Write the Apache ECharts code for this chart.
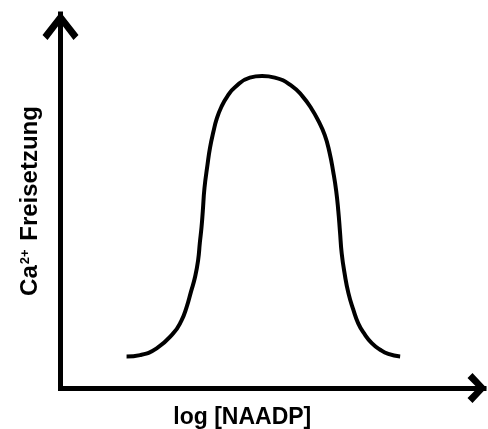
<!DOCTYPE html>
<html>
<head>
<meta charset="utf-8">
<script src="https://cdn.jsdelivr.net/npm/echarts@6/dist/echarts.min.js"></script>
<style>
  html, body { margin: 0; padding: 0; background: #fff; }
  #chart { width: 488px; height: 429px; }
</style>
</head>
<body>
<div id="chart"></div>
<script>
// curve (arbitrary units 0..100)
var logConc = [15.6, 18.8, 22.7, 26.6, 28.5, 29.8, 30.8, 31.8, 32.5, 32.9, 33.3, 33.6, 34.0,
  34.7, 35.3, 36.1, 36.9, 38.0, 39.4, 41.2, 44.7, 47.6, 50.6, 54.8, 57.2, 59.2, 60.9, 62.4,
  63.5, 64.4, 65.1, 65.6, 66.0, 66.4, 67.1, 68.0, 69.1, 70.3, 71.8, 73.5, 75.4, 77.4, 80.2];
var release = [8.4, 8.8, 10.6, 14.6, 17.9, 21.7, 25.7, 29.8, 34.2, 38.8, 43.0, 47.3, 53.5,
  59.6, 64.2, 68.5, 72.0, 75.2, 78.0, 80.4, 83.0, 83.4, 83.0, 80.6, 77.9, 74.8, 71.4, 67.6,
  63.1, 57.8, 52.7, 47.3, 41.7, 36.0, 30.5, 25.3, 21.1, 17.3, 14.4, 12.0, 10.3, 9.1, 8.4];

var xName = 'log [NAADP]';
var yName = 'Ca{s|2+} Freisetzung';

var points = logConc.map(function (x, i) { return [x, release[i]]; });

// open chevron arrow heads (pointing up, rotated by the axis)
var arrowY = 'path://M18,0 L36,23 L31,28 L18,11 L5,28 L0,23 Z';
var arrowX = 'path://M15,0 L30,14 L25,19 L15,9 L5,19 L0,14 Z';

var chartDom = document.getElementById('chart');
var myChart = echarts.init(chartDom);
var option;

option = {
  animation: false,
  grid: { left: 60.5, right: 4, top: 14, bottom: 41, outerBoundsMode: 'none' },
  xAxis: {
    type: 'value',
    min: 0,
    max: 100,
    name: xName,
    nameLocation: 'middle',
    nameGap: 18,
    nameTextStyle: {
      fontFamily: 'Liberation Sans',
      fontWeight: 'bold',
      fontSize: 23,
      color: '#000',
      padding: [0, 60, 0, 0]
    },
    axisLine: {
      lineStyle: { color: '#000', width: 5, cap: 'square' },
      symbol: ['none', arrowX],
      symbolSize: [30, 19],
      symbolOffset: [0, -7]
    },
    axisTick: { show: false },
    axisLabel: { show: false },
    splitLine: { show: false }
  },
  yAxis: {
    type: 'value',
    min: 0,
    max: 100,
    name: yName,
    nameLocation: 'middle',
    nameGap: 18,
    nameTextStyle: {
      fontFamily: 'Liberation Sans',
      fontWeight: 'bold',
      fontSize: 24,
      color: '#000',
      rich: {
        s: {
          fontFamily: 'Liberation Sans',
          fontWeight: 'bold',
          fontSize: 13,
          color: '#000',
          verticalAlign: 'top',
          padding: [0, 2, 11, 1]
        }
      }
    },
    axisLine: {
      lineStyle: { color: '#000', width: 5, cap: 'square' },
      symbol: ['none', arrowY],
      symbolSize: [36, 28],
      symbolOffset: [0, -12]
    },
    axisTick: { show: false },
    axisLabel: { show: false },
    splitLine: { show: false }
  },
  series: [
    {
      type: 'line',
      data: points,
      smooth: 0.5,
      showSymbol: false,
      lineStyle: { color: '#000', width: 4 }
    }
  ]
};

option && myChart.setOption(option);
</script>
</body>
</html>
